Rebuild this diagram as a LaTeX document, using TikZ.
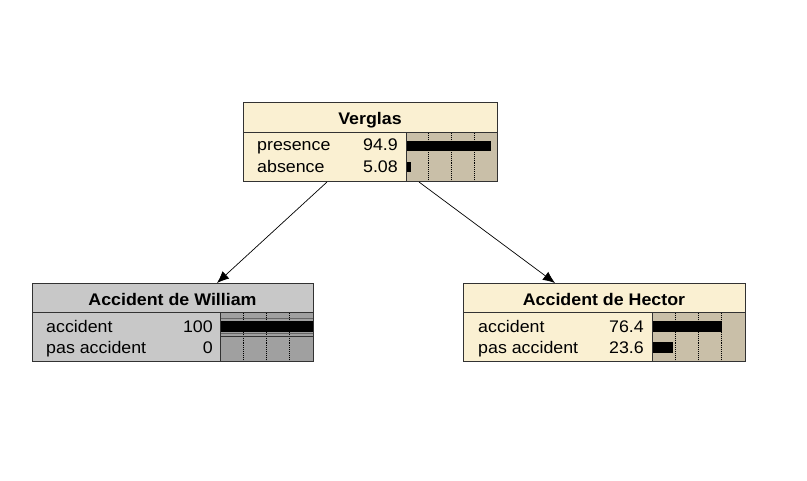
\documentclass[tikz,border=0pt]{standalone}
\usepackage{fontspec}
\setmainfont{Liberation Sans}[FakeStretch=1.06]
\usetikzlibrary{arrows.meta}
\definecolor{cream}{RGB}{250,240,210}
\definecolor{tan}{RGB}{201,191,168}
\definecolor{lgray}{RGB}{200,200,200}
\definecolor{dgray}{RGB}{160,160,160}
\definecolor{edge}{RGB}{50,50,50}
\begin{document}
\begin{tikzpicture}[x=1pt,y=-1pt,
  boxframe/.style={draw=edge,line width=1pt,anchor=north west,inner sep=0pt},
  ttl/.style={font=\fontsize{16.8}{19}\selectfont\bfseries,inner sep=0pt,anchor=base},
  lbl/.style={font=\fontsize{16.8}{19}\selectfont,inner sep=0pt},
  grid/.style={densely dotted,line width=0.9pt,black},
  conn/.style={line width=0.7pt,black,-{Latex[length=12pt,width=10pt]}}]
\useasboundingbox (0,0) rectangle (807,480);

% ---------- Verglas ----------
\node[boxframe,fill=cream,minimum width=254pt,minimum height=79pt] (verglas) at (243,102) {};
\fill[tan] (406,132) rectangle (497,181);
\foreach \xx in {428.75,451.5,474.25} \draw[grid] (\xx,133) -- (\xx,181);
\fill[black] (406,141) rectangle (491,151);
\fill[black] (406,162) rectangle (410.5,172);
\draw[edge,line width=1pt] (406,132) -- (406,181);
\draw[edge,line width=1pt] (243,132) -- (497,132);
\draw[boxframe,fill=none] (243,102) rectangle (497,181);
\node[ttl] (verglasT) at (370,124.5) {Verglas};
\node[lbl,anchor=base west] (vp) at (257,150.5) {presence};
\node[lbl,anchor=base east] (vpv) at (398,150.5) {94.9};
\node[lbl,anchor=base west] (va) at (257,172) {absence};
\node[lbl,anchor=base east] (vav) at (398,172) {5.08};

% ---------- Accident de William ----------
\node[boxframe,fill=lgray,minimum width=281pt,minimum height=78pt] (william) at (32,283) {};
\fill[dgray] (220,312) rectangle (313,361);
\foreach \xx in {243.25,266.5,289.75} \draw[grid] (\xx,313) -- (\xx,361);
\draw[black!60,line width=1pt] (220,318.5) -- (313,318.5);
\fill[black] (220,321) rectangle (313,331.5);
\draw[black!60,line width=1pt] (220,333.5) -- (313,333.5);
\draw[edge,line width=0.8pt] (220,336) -- (313,336);
\draw[edge,line width=1pt] (220,312) -- (220,361);
\draw[edge,line width=1pt] (32,312) -- (313,312);
\draw[boxframe,fill=none] (32,283) rectangle (313,361);
\node[ttl] (williamT) at (172.5,305) {Accident de William};
\node[lbl,anchor=base west] (wa) at (46,332.5) {accident};
\node[lbl,anchor=base east] (wav) at (213,332.5) {100};
\node[lbl,anchor=base west] (wp) at (46,353.5) {pas accident};
\node[lbl,anchor=base east] (wpv) at (213,353.5) {0};

% ---------- Accident de Hector ----------
\node[boxframe,fill=cream,minimum width=282pt,minimum height=78pt] (hector) at (463,283) {};
\fill[tan] (652,312) rectangle (745,361);
\foreach \xx in {675.25,698.5,721.75} \draw[grid] (\xx,313) -- (\xx,361);
\fill[black] (652,321) rectangle (722,331.5);
\fill[black] (652,342) rectangle (673,352.5);
\draw[edge,line width=1pt] (652,312) -- (652,361);
\draw[edge,line width=1pt] (463,312) -- (745,312);
\draw[boxframe,fill=none] (463,283) rectangle (745,361);
\node[ttl] (hectorT) at (604,305) {Accident de Hector};
\node[lbl,anchor=base west] (ha) at (478,332.5) {accident};
\node[lbl,anchor=base east] (hav) at (644,332.5) {76.4};
\node[lbl,anchor=base west] (hp) at (478,353.5) {pas accident};
\node[lbl,anchor=base east] (hpv) at (644,353.5) {23.6};

% ---------- connectors ----------
\coordinate (v1) at (327,182);
\coordinate (v2) at (419,182);
\coordinate (wtop) at (217,283);
\coordinate (htop) at (555,283);
\draw[conn] (v1) -- (wtop);
\draw[conn] (v2) -- (htop);
\end{tikzpicture}
\end{document}
